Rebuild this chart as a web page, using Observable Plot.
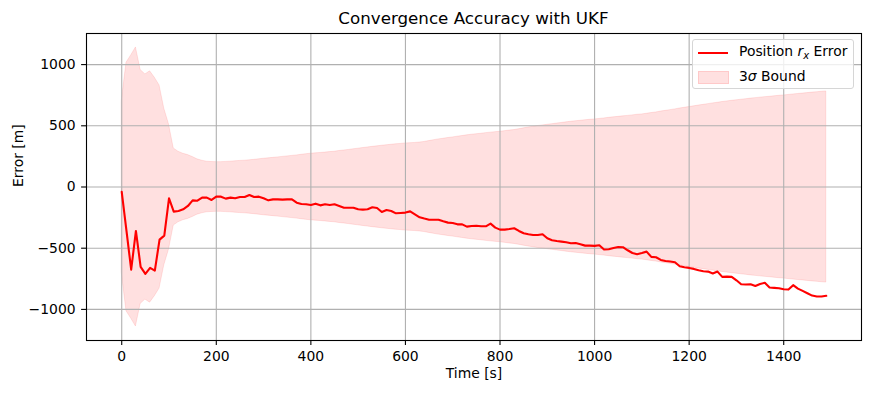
<!DOCTYPE html>
<html><head><meta charset="utf-8">
<script src="https://cdn.jsdelivr.net/npm/d3@7"></script>
<script src="https://cdn.jsdelivr.net/npm/@observablehq/plot@0.6"></script>
<style>
body{margin:0;background:#fff;font-family:"DejaVu Sans",sans-serif;color:#000}
#wrap{position:relative;width:871px;height:393px;}
#title{height:29px;position:relative;}
#title span{position:absolute;left:86px;width:775px;top:8px;text-align:center;font-size:16.7px;white-space:nowrap}
#legend{position:absolute;left:692px;top:39px;width:162px;height:50px;border:1px solid #d6d6d6;border-radius:3px;background:rgba(255,255,255,0.8);box-sizing:border-box}
.li{position:absolute;left:0;font-size:13.9px;white-space:nowrap}
.sw-line{position:absolute;left:5px;width:30px;height:2px;background:red}
.sw-patch{position:absolute;left:5px;width:29px;height:11px;background:rgba(255,0,0,0.12);border:1px solid rgba(255,0,0,0.1)}
.lt{position:absolute;left:46px}
</style>
</head><body>
<div id="wrap">
<div id="title"><span>Convergence Accuracy with UKF</span></div>
<div id="chart"></div>
<div id="legend">
  <div class="sw-line" style="top:12px"></div>
  <div class="li lt" style="top:3px">Position <i>r</i><sub style="font-size:10px;font-style:italic;vertical-align:-3px">x</sub> Error</div>
  <div class="sw-patch" style="top:31px"></div>
  <div class="li lt" style="top:28px">3<i>σ</i> Bound</div>
</div>
</div>
<script>
// sample times [s]
const times = d3.range(0, 1500, 10);
// position r_x error [m]
const errorRx = [
-40,-357,-675,-359,-653,-710,-661,-683,-430,-397,
-92,-201,-196,-182,-155,-109,-112,-87,-87,-106,
-79,-79,-95,-87,-92,-82,-82,-65,-82,-79,
-92,-109,-101,-101,-103,-101,-101,-128,-139,-141,
-147,-136,-150,-141,-147,-141,-155,-169,-169,-169,
-182,-185,-182,-166,-172,-204,-188,-196,-215,-212,
-209,-199,-223,-248,-258,-267,-267,-267,-280,-291,
-294,-305,-305,-324,-318,-316,-321,-321,-299,-332,
-348,-348,-343,-337,-359,-378,-386,-392,-392,-386,
-419,-435,-441,-446,-452,-460,-457,-468,-479,-479,
-481,-476,-511,-509,-498,-490,-492,-517,-539,-549,
-539,-528,-571,-574,-596,-604,-609,-615,-647,-656,
-661,-669,-680,-688,-691,-707,-691,-734,-732,-734,
-762,-794,-797,-794,-808,-792,-783,-821,-824,-827,
-835,-838,-802,-830,-849,-868,-887,-895,-895,-889
];
// 3-sigma bound [m]
const bound3s = [
700,1015,1075,1140,955,920,945,892,830,640,
511,315,288,272,261,245,226,215,207,204,
203,203,205,207,210,213,215,218,222,226,
231,234,238,242,246,250,254,258,263,268,
272,275,278,281,285,288,294,298,303,308,
313,318,323,328,332,337,341,345,349,352,
356,358,360,363,368,375,382,389,394,400,
405,411,416,422,427,431,435,440,444,448,
451,456,461,465,472,479,486,492,498,503,
508,513,518,523,528,533,537,541,545,549,
552,556,560,565,569,573,577,581,585,590,
593,598,604,609,616,622,628,634,641,647,
653,659,665,671,677,683,688,694,699,704,
708,713,717,722,726,730,734,737,741,745,
748,752,756,760,763,767,771,774,778,781
];
const xTicks = [0,200,400,600,800,1000,1200,1400];
const yTicks = [-1000,-500,0,500,1000];

const data = times.map((t,i)=>({t, e: errorRx[i], s: bound3s[i]}));
const fmt = d => d < 0 ? "\u2212" + Math.abs(d) : String(d);

const chart = Plot.plot({
  width: 871, height: 364,
  marginTop: 4, marginBottom: 24 + 29, marginLeft: 86, marginRight: 10,
  style: {fontFamily: "DejaVu Sans", fontSize: "13.9px", background: "white", color: "black", overflow: "visible"},
  x: {domain: [-74.5, 1564.5]},
  y: {domain: [-1254, 1254]},
  marks: [
    Plot.areaY(data, {x: "t", y1: d => -d.s, y2: d => d.s, fill: "red", fillOpacity: 0.12, stroke: "red", strokeOpacity: 0.1, strokeWidth: 1}),
    Plot.gridX(xTicks, {stroke: "#b0b0b0", strokeOpacity: 1, strokeWidth: 1.1}),
    Plot.gridY(yTicks, {stroke: "#b0b0b0", strokeOpacity: 1, strokeWidth: 1.1}),
    Plot.lineY(data, {x: "t", y: "e", stroke: "red", strokeWidth: 2.1}),
    Plot.frame({stroke: "black", strokeWidth: 1.1}),
    Plot.axisX(xTicks, {tickSize: 4.9, tickPadding: 6, tickFormat: d => String(d), label: null, fontSize: 13.9, strokeWidth: 1.1}),
    Plot.axisY(yTicks, {tickSize: 4.9, tickPadding: 6, tickFormat: fmt, label: null, fontSize: 13.9, strokeWidth: 1.1}),
    Plot.text(["Time [s]"], {text: d => d, frameAnchor: "bottom", dy: 37, fontSize: 13.9}),
    Plot.text(["Error [m]"], {text: d => d, frameAnchor: "left", dx: -67.5, rotate: -90, fontSize: 13.9})
  ]
});
document.getElementById("chart").appendChild(chart);
</script>
</body></html>
